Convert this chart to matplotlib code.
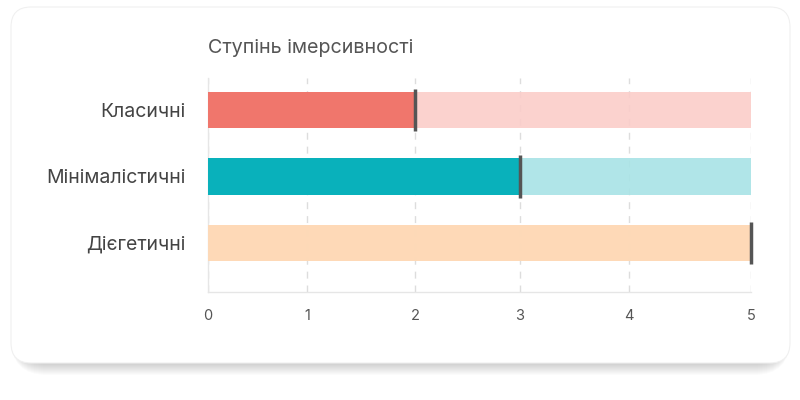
import matplotlib.pyplot as plt
import numpy as np
from matplotlib.patches import FancyBboxPatch

plt.rcParams['font.family'] = ['Inter', 'DejaVu Sans']

# data
categories = ['Класичні', 'Мінімалістичні', 'Дієгетичні']
values = [2, 3, 5]
max_value = 5
fg_colors = ['#F07167', '#00AFB9', '#FED9B7']
bg_colors = ['#FBCDC9', '#A8E3E6', '#FED9B7']
ticks = [0, 1, 2, 3, 4, 5]
title = 'Ступінь імерсивності'

# the reference axis is slightly uneven; mimic its spacing with a scale
tick_spacing = [0, 99, 207, 312, 421, 543]


def fwd(v):
    return np.interp(v, ticks, tick_spacing)


def inv(p):
    return np.interp(p, tick_spacing, ticks)


fig = plt.figure(figsize=(8, 4), dpi=100)
fig.patch.set_facecolor('white')

# card with soft shadow
W, H = 800, 400
x0, y0, x1, y1 = 11, 7, 790, 363
for i in range(12):
    off = 1 + i * 1.0
    sh = FancyBboxPatch((x0 / W, 1 - (y1 + off) / H), (x1 - x0) / W, (y1 - y0) / H,
                        boxstyle='round,pad=0,rounding_size=0.045',
                        mutation_aspect=2.0, transform=fig.transFigure,
                        facecolor='black', edgecolor='none', alpha=0.014, zorder=0)
    fig.patches.append(sh)
card = FancyBboxPatch((x0 / W, 1 - y1 / H), (x1 - x0) / W, (y1 - y0) / H,
                      boxstyle='round,pad=0,rounding_size=0.025',
                      mutation_aspect=2.0, transform=fig.transFigure,
                      facecolor='white', edgecolor='#f0f0f0', linewidth=0.8, zorder=1)
fig.patches.append(card)

ax = fig.add_axes([208 / W, 1 - 292 / H, (751 - 208) / W, (292 - 78) / H])
ax.set_facecolor('none')
ax.set_zorder(2)
ax.set_xscale('function', functions=(fwd, inv))

y = np.arange(len(categories))
ax.barh(y, [max_value] * len(categories), height=0.55, color=bg_colors, alpha=0.9, zorder=2)
ax.barh(y, values, height=0.55, color=fg_colors, alpha=0.95, zorder=3)
ax.vlines(values, y - 0.32, y + 0.32, color='#555555', linewidth=2.5, zorder=4, clip_on=False)

ax.set_xlim(0, 5)
ax.set_ylim(2.74, -0.48)
ax.set_xticks(ticks)
ax.set_xticklabels([str(t) for t in ticks])
ax.set_yticks(y)
ax.set_yticklabels(categories)
ax.tick_params(axis='y', length=0, pad=16, labelsize=14, labelcolor='#444444')
ax.tick_params(axis='x', length=0, pad=12, labelsize=10.5, labelcolor='#555555')

ax.grid(axis='x', color='#dddddd', linestyle=(0, (5, 5)), linewidth=1, zorder=1)
ax.set_axisbelow(True)
for s in ['top', 'right']:
    ax.spines[s].set_visible(False)
for s in ['left', 'bottom']:
    ax.spines[s].set_color('#e6e6e6')
    ax.spines[s].set_linewidth(1)

fig.text(208 / W, 1 - 48 / H, title, ha='left', va='center', fontsize=14.2, color='#555555')

fig.savefig('out.png', dpi=100)
